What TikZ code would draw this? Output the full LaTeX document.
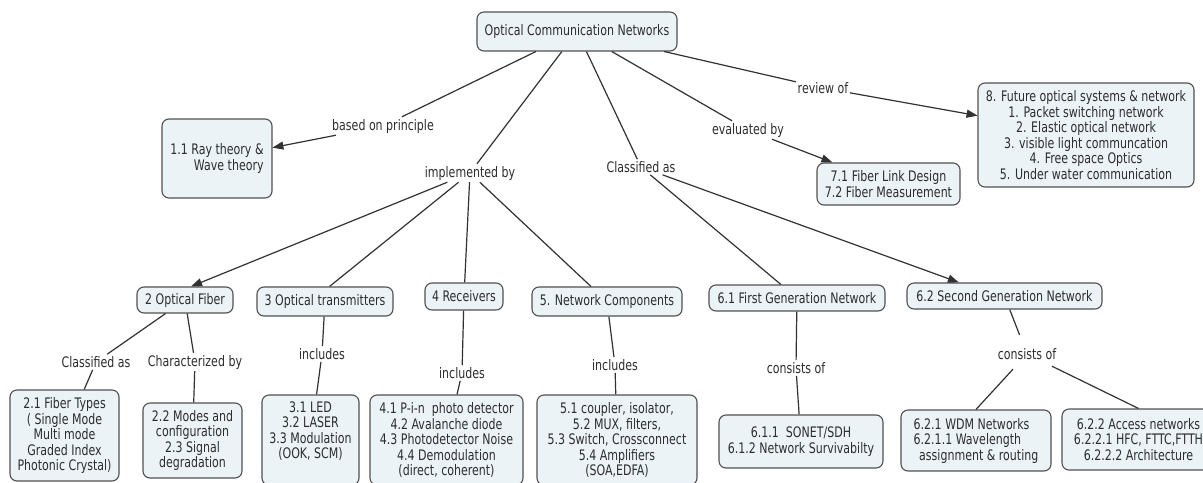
\documentclass[tikz,border=0pt]{standalone}
\usepackage{fontspec}
\setmainfont{DejaVu Sans}
\usetikzlibrary{arrows.meta}
\definecolor{boxfill}{RGB}{235,243,247}
\definecolor{boxline}{RGB}{80,80,80}
\definecolor{linkcol}{RGB}{50,50,50}
\definecolor{txt}{RGB}{45,45,45}
\begin{document}
\begin{tikzpicture}[x=1.31579pt, y=-1pt, xscale=0.76, transform shape,
  every node/.style={font=\fontsize{14.5}{15.5}\selectfont, text=txt},
  cbox/.style={draw=boxline, fill=boxfill, line width=1.1pt, rounded corners=7pt, align=center, inner sep=2pt},
  bw/.style={minimum width=#1*1.31579pt},
  bh/.style={minimum height=#1pt},
  lbl/.style={inner sep=2pt},
  link/.style={draw=linkcol, line width=1.2pt},
  arr/.style={link, -{Triangle[length=11pt,width=8pt]}}
]
\useasboundingbox[fill=white] (0,0) rectangle (1203,482);

% top level
\node[cbox,bw=200,bh=39] (root) at (577,31.5) {Optical Communication Networks};
\node[cbox,bw=110,bh=79,align=right] (ray) at (217,158.5) {1.1 Ray theory \&\\Wave theory};
\node[lbl] (based) at (383,126) {based on principle};
\node[lbl] (impl) at (470,173) {implemented by};
\node[lbl] (clsA) at (641,167) {Classified as};
\node[lbl] (evalby) at (748,130) {evaluated by};
\node[lbl] (review) at (823,88) {review of};
\node[cbox,bw=143,bh=42] (link7) at (888.5,184) {7.1 Fiber Link Design\\7.2 Fiber Measurement};
\node[cbox,bw=216,bh=104] (fut) at (1086,135) {8. Future optical systems \& network\\1. Packet switching network\\2. Elastic optical network\\3. visible light communcation\\4. Free space Optics\\5. Under water communication};

% second level
\node[cbox,bw=96,bh=26] (fiber) at (185,300) {2 Optical Fiber};
\node[cbox,bw=136,bh=29] (trans) at (325,301.5) {3 Optical transmitters};
\node[cbox,bw=78,bh=27] (recv) at (464,296.5) {4 Receivers};
\node[cbox,bw=150,bh=29] (comp) at (607,301.5) {5. Network Components};
\node[cbox,bw=176,bh=26] (gen1) at (797,298) {6.1 First Generation Network};
\node[cbox,bw=195,bh=26] (gen2) at (1004.5,296) {6.2 Second Generation Network};

% third level labels
\node[lbl] (clsB) at (96,362) {Classified as};
\node[lbl] (charby) at (195,362) {Characterized by};
\node[lbl] (inc3) at (322,354) {includes};
\node[lbl] (inc4) at (462,373) {includes};
\node[lbl] (inc5) at (615,365) {includes};
\node[lbl] (cons1) at (796,368) {consists of};
\node[lbl] (cons2) at (1027,354) {consists of};

% leaf boxes
\node[cbox,bw=109,bh=91] (b21) at (64.5,435.5) {2.1 Fiber Types\\( Single Mode\\Multi mode\\Graded Index\\Photonic Crystal)};
\node[cbox,bw=99,bh=75] (b22) at (192.5,440.5) {2.2 Modes and\\configuration\\2.3 Signal\\degradation};
\node[cbox,bw=97,bh=90] (b31) at (310.5,440) {3.1 LED\\3.2 LASER\\3.3 Modulation\\(OOK, SCM)\\\strut};
\node[cbox,bw=153,bh=90] (b41) at (446.5,440) {4.1 P-i-n\ \ photo detector\\4.2 Avalanche diode\\4.3 Photodetector Noise\\4.4 Demodulation\\(direct, coherent)};
\node[cbox,bw=160,bh=90] (b51) at (617,440) {5.1 coupler, isolator,\\5.2 MUX, filters,\\5.3 Switch, Crossconnect\\5.4 Amplifiers\\(SOA,EDFA)};
\node[cbox,bw=164,bh=53] (b611) at (801,441.5) {6.1.1\ \ SONET/SDH\\6.1.2 Network Survivabilty};
\node[cbox,bw=150,bh=61,align=left] (b621) at (976,440.5) {6.2.1 WDM Networks\\6.2.1.1 Wavelength\\\hspace*{0.5em}assignment \& routing};
\node[cbox,bw=153,bh=61] (b622) at (1138.5,439.5) {6.2.2 Access networks\\6.2.2.1 HFC, FTTC,FTTH\\6.2.2.2 Architecture};

% connectors
\draw[link] (root) -- (based);
\draw[arr] (based) -- (ray);
\draw[link] (root) -- (impl);
\draw[link] (root) -- (clsA);
\draw[link] (root) -- (evalby);
\draw[arr] (evalby) -- (link7);
\draw[link] (root) -- (review);
\draw[arr] (review) -- (fut);
\draw[arr] (impl) -- ([xshift=8pt]fiber.north);
\draw[link] (impl) -- ([xshift=6pt]trans.north);
\draw[link] (impl) -- (recv);
\draw[link] (impl) -- (comp);
\draw[link] (clsA) -- (gen1);
\draw[arr] (clsA) -- ([xshift=-60pt]gen2.north);
\draw[link] (fiber) -- (clsB);
\draw[link] (clsB) -- (b21);
\draw[link] (fiber) -- (charby);
\draw[link] (charby) -- (b22);
\draw[link] (trans) -- (inc3);
\draw[link] (inc3) -- (b31);
\draw[link] (recv) -- (inc4);
\draw[link] (inc4) -- (b41);
\draw[link] (comp) -- (inc5);
\draw[link] (inc5) -- (b51);
\draw[link] (gen1) -- (cons1);
\draw[link] (cons1) -- (b611);
\draw[link, shorten >=12pt] (gen2) -- (cons2);
\draw[link, shorten <=10pt] (cons2) -- (b621.north);
\draw[link, shorten <=10pt] (cons2) -- (b622.north);
\end{tikzpicture}
\end{document}
